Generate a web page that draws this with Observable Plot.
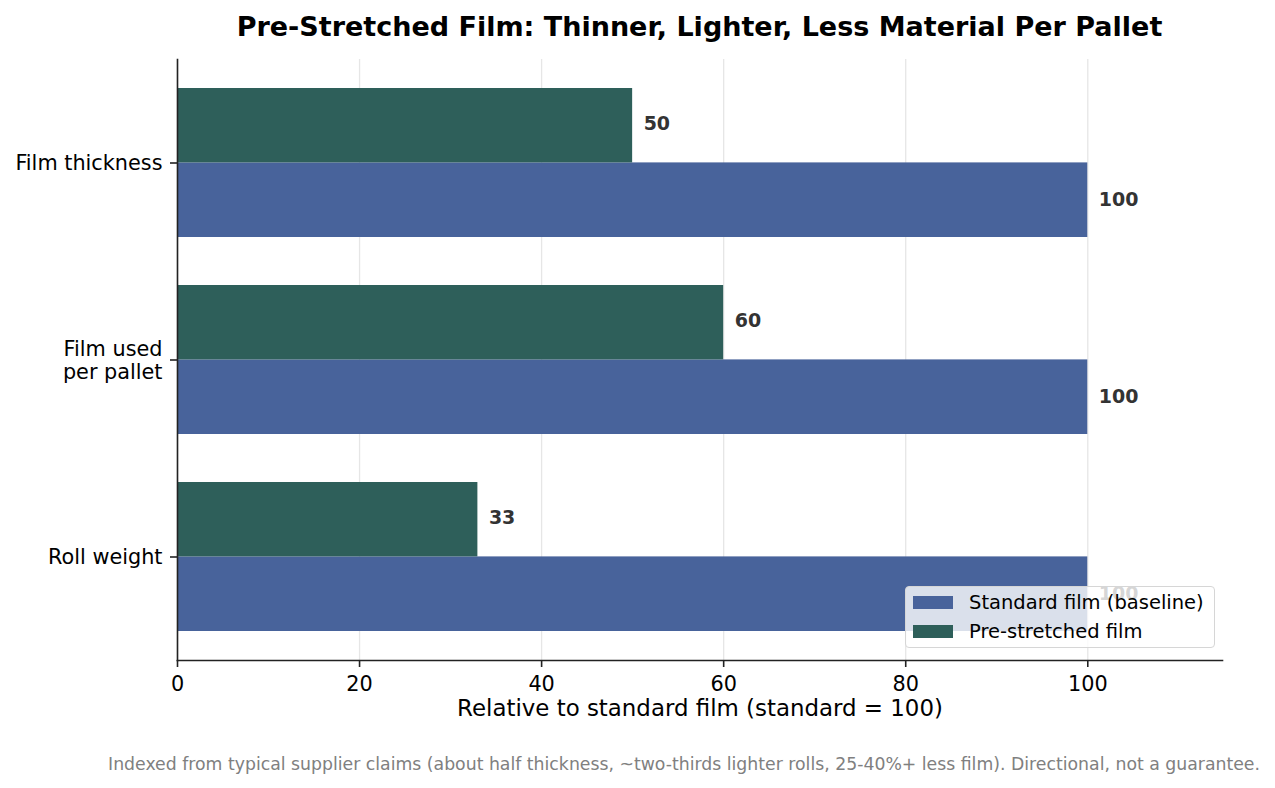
<!DOCTYPE html>
<html>
<head>
<meta charset="utf-8">
<script src="https://cdn.jsdelivr.net/npm/d3@7"></script>
<script src="https://cdn.jsdelivr.net/npm/@observablehq/plot@0.6"></script>
<style>
  html, body { margin: 0; padding: 0; background: #fff; }
  body { width: 1275px; height: 788px; position: relative; overflow: hidden; font-family: "DejaVu Sans", sans-serif; }
  #title { height: 48px; box-sizing: border-box; padding-top: 6px; padding-left: 177px; width: 1222px; text-align: center; font-weight: bold; font-size: 27px; line-height: 42px; color: #000; }
  #chart { height: 700px; }
  #caption { height: 40px; width: 1260px; text-align: right; font-size: 17.3px; color: #808080; line-height: 32px; }
  #legend { position: absolute; left: 905px; top: 586px; width: 310px; height: 62px; box-sizing: border-box;
            background: rgba(255,255,255,0.8); border: 1px solid #d6d6d6; border-radius: 4px; }
  .row { position: absolute; left: 7px; height: 20px; display: flex; align-items: center; font-size: 19.5px; color: #000; white-space: nowrap; }
  .sw { width: 40px; height: 13px; margin-right: 16px; }
</style>
</head>
<body>
<div id="title"></div>
<div id="chart"></div>
<div id="caption"></div>
<div id="legend"></div>
<script>
const titleText = "Pre-Stretched Film: Thinner, Lighter, Less Material Per Pallet";
const captionText = "Indexed from typical supplier claims (about half thickness, ~two-thirds lighter rolls, 25-40%+ less film). Directional, not a guarantee.";
const xLabel = "Relative to standard film (standard = 100)";
const categories = ["Film thickness", "Film used\nper pallet", "Roll weight"];
const seriesNames = ["Standard film (baseline)", "Pre-stretched film"];
const standardValues = [100, 100, 100];
const preStretchedValues = [50, 60, 33];
const xTicks = [0, 20, 40, 60, 80, 100];
const colors = ["#48639b", "#2e5f5a"];

const standard = categories.map((c, i) => ({category: c, value: standardValues[i]}));
const pre = categories.map((c, i) => ({category: c, value: preStretchedValues[i]}));

document.getElementById("title").textContent = titleText;
document.getElementById("caption").textContent = captionText;

const chart = Plot.plot({
  width: 1275,
  height: 700,
  marginLeft: 177,
  marginRight: 53,
  marginTop: 11,
  marginBottom: 88,
  style: {fontFamily: "DejaVu Sans", fontSize: "20.8px", color: "#000", background: "white", overflow: "visible"},
  x: {domain: [0, 114.8]},
  y: {domain: categories, paddingInner: 0.2424, paddingOuter: 0.1414},
  marks: [
    Plot.gridX(xTicks, {stroke: "#e6e6e6", strokeOpacity: 1, strokeWidth: 1.3}),
    Plot.barX(standard, {x: "value", y: "category", fill: colors[0], insetTop: 74.4}),
    Plot.barX(pre, {x: "value", y: "category", fill: colors[1], insetBottom: 74.6}),
    Plot.text(pre, {x: "value", y: "category", text: d => String(d.value), dy: -39, dx: 11, textAnchor: "start", fontWeight: "bold", fill: "#333", fontSize: 19}),
    Plot.text(standard, {x: "value", y: "category", text: d => String(d.value), dy: 36.5, dx: 11, textAnchor: "start", fontWeight: "bold", fill: "#333", fontSize: 19}),
    Plot.frame({anchor: "left", stroke: "#222", strokeWidth: 1.6}),
    Plot.frame({anchor: "bottom", stroke: "#222", strokeWidth: 1.6}),
    Plot.axisX({ticks: xTicks, tickSize: 7, tickPadding: 9, stroke: "#222", strokeWidth: 1.6, fontSize: 20.8, fill: "#000", label: null}),
    Plot.text([xLabel], {frameAnchor: "bottom", text: d => d, dy: 55, fontSize: 22.9, fill: "#000"}),
    Plot.axisY({tickSize: 7, tickPadding: 8, stroke: "#222", strokeWidth: 1.6, fontSize: 20.8, fill: "#000", label: null, lineHeight: 1.1})
  ]
});
document.getElementById("chart").appendChild(chart);

const legend = document.getElementById("legend");
seriesNames.forEach((name, i) => {
  const row = document.createElement("div");
  row.className = "row";
  row.style.top = (5 + i * 29) + "px";
  const sw = document.createElement("div");
  sw.className = "sw";
  sw.style.background = colors[i];
  const t = document.createElement("span");
  t.textContent = name;
  row.appendChild(sw);
  row.appendChild(t);
  legend.appendChild(row);
});
</script>
</body>
</html>
